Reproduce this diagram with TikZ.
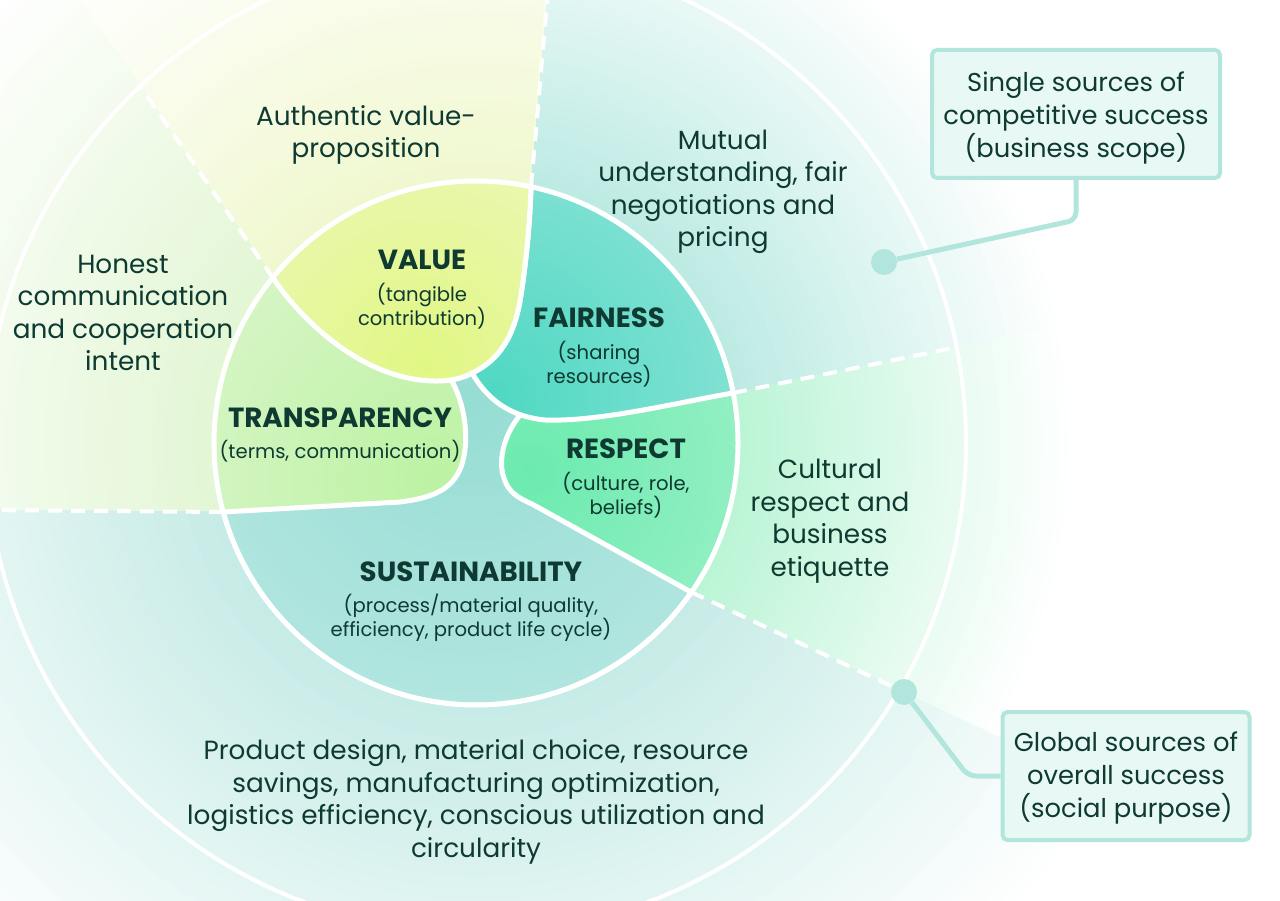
\documentclass[tikz,border=0pt]{standalone}
\usepackage{fontspec}
\setmainfont{Poppins}
\definecolor{ink}{HTML}{0E3A32}
\definecolor{callline}{HTML}{B2E6DD}
\definecolor{callfill}{HTML}{E8F8F5}
% outer ring colours (at the inner circle)
\definecolor{valuering}{HTML}{F0F8CF}
\definecolor{honestring}{HTML}{E2F6D4}
\definecolor{mutualring}{HTML}{BBEAE3}
\definecolor{culturering}{HTML}{BAF4D5}
\definecolor{productring}{HTML}{C6EBE6}
% petal colours
\definecolor{valuecore}{HTML}{E1F784}
\definecolor{valueout}{HTML}{F0F8D0}
\definecolor{faircore}{HTML}{4FD8C3}
\definecolor{fairout}{HTML}{ACE9E1}
\definecolor{respcore}{HTML}{6BEBAF}
\definecolor{respout}{HTML}{ADF2D0}
\definecolor{transcore}{HTML}{BCF2A2}
\definecolor{transout}{HTML}{E5F7D9}
\definecolor{sustcore}{HTML}{96DDD4}
\definecolor{sustout}{HTML}{CDEFEB}
\tikzset{outertext/.style = {text=ink, align=center, font=\fontsize{26.3}{32.5}\selectfont}}
\tikzset{calltext/.style = {text=ink, align=center, font=\fontsize{25.8}{33}\selectfont}}
\tikzset{heading/.style = {text=ink, font=\fontsize{27.7}{30}\selectfont\bfseries}}
\tikzset{subtext/.style = {text=ink, align=center, font=\fontsize{19.6}{24}\selectfont}}
\tikzset{spoke/.style = {white, line width=4, dash pattern=on 14 off 9}}
% sector fill, fading from the inner circle (r=262) to white at radius #2
\tikzset{ring/.style 2 args = {path picture={
    \foreach \k [evaluate=\k as \r using #2-(#2-262)/40*\k, evaluate=\k as \p using 2.5*\k] in {0,...,40}
      {\fill[#1!\p!white] (O) circle (\r);}}}}
\tikzset{petal/.style n args = {4}{draw=white, line width=5, fill=#2,
    path picture={\shade[inner color=#1, outer color=#2] (#3) circle (#4);}}}
\tikzset{callbox/.style = {draw=callline, line width=4, fill=callfill, rounded corners=5,
    inner sep=0, minimum height=128}}
\tikzset{knob/.style = {circle, fill=callline, minimum size=26, inner sep=0}}
\tikzset{link/.style = {callline, line width=5, rounded corners=8}}

\begin{document}
\begin{tikzpicture}[x=1pt, y=-1pt]
  \useasboundingbox (0,0) rectangle (1280,901);
  \clip (0,0) rectangle (1280,901);
  \fill[white] (0,0) rectangle (1280,901);

  \coordinate (O) at (476,443);
  \coordinate (A) at (273,278);
  \coordinate (B) at (531,187);
  \coordinate (C) at (733,393);
  \coordinate (E) at (691,592);
  \coordinate (F) at (223,512);
  \coordinate (J) at (472,373);
  \coordinate (b1) at (549,-20);
  \coordinate (b2) at (140,86);
  \coordinate (b3) at (-20,510);
  \coordinate (b5) at (958,347);

  % sectors of the outer ring
  \path[ring={valuering}{620}] (A) -- (-126,-298) -- (573,-300) -- (B) -- (O) -- cycle;
  \path[ring={honestring}{660}] (F) -- (-300,507) -- (-300,-300) -- (-126,-298) -- (A) -- (O) -- cycle;
  \path[ring={mutualring}{600}] (B) -- (573,-300) -- (1500,-300) -- (1500,236) -- (C) -- (O) -- cycle;
  \path[ring={culturering}{600}] (C) -- (1500,236) -- (1500,974) -- (E) -- (O) -- cycle;
  \path[ring={productring}{720}] (E) -- (1500,974) -- (1500,1300) -- (-300,1300) -- (-300,507) -- (F) -- (O) -- cycle;

  \draw[white, line width=4] (O) circle (490);
  \node[knob] (globaldot) at (904,692) {};
  \draw[spoke] (B) -- (b1);
  \draw[spoke] (A) -- (b2);
  \draw[spoke] (F) -- (b3);
  \draw[spoke] (E) -- (globaldot);
  \draw[spoke] (C) -- (b5);

  % inner disc
  \begin{scope}
    \clip (O) circle (262);
    \path[petal={sustcore}{sustout}{470,400}{620}] (O) circle (262);
    \path[petal={respcore}{respout}{530,470}{360}] (532,395) -- (527,408)
      .. controls (505,428) and (497,460) .. (504,478)
      .. controls (508,492) and (518,498) .. (532,504) -- (E)
      -- (730,620) -- (800,620) -- (800,380) -- cycle;
    \path[petal={transcore}{transout}{440,480}{420}] (440,345) -- (450,378)
      .. controls (464,400) and (471,440) .. (461,467)
      .. controls (452,490) and (432,498) .. (400,502) -- (F)
      -- (180,515) -- (160,300) -- (225,240) -- cycle;
    \path[petal={faircore}{fairout}{495,395}{440}] (J)
      .. controls (485,395) and (505,416) .. (545,420)
      .. controls (600,422) and (680,402) .. (C)
      -- (785,384) -- (800,100) -- (545,120) -- (B)
      .. controls (530,220) and (527,255) .. (521,295)
      .. controls (515,335) and (500,360) .. (J) -- cycle;
    \path[petal={valuecore}{valueout}{425,365}{380}] (A)
      .. controls (300,318) and (355,372) .. (420,380)
      .. controls (445,383) and (462,379) .. (J)
      .. controls (500,360) and (515,335) .. (521,295)
      .. controls (527,255) and (530,220) .. (B)
      -- (545,120) -- (250,120) -- (225,240) -- cycle;
  \end{scope}
  \draw[white, line width=5] (O) circle (262);

  % texts of the outer ring
  \node[outertext] (authentic) at (366,135) {Authentic value-\\proposition};
  \node[outertext] (mutual) at (723,192) {Mutual\\understanding, fair\\negotiations and\\pricing};
  \node[outertext] (honest) at (123,313) {Honest\\communication\\and cooperation\\intent};
  \node[outertext] (cultural) at (830,521) {Cultural\\respect and\\business\\etiquette};
  \node[outertext] (product) at (476,802) {Product design, material choice, resource\\savings, manufacturing optimization,\\logistics efficiency, conscious utilization and\\circularity};

  % texts of the inner disc
  \node[heading] (value) at (422,260) {VALUE};
  \node[subtext] (valuesub) at (422,306) {(tangible\\contribution)};
  \node[heading] (fairness) at (599,318) {FAIRNESS};
  \node[subtext] (fairnesssub) at (599,364) {(sharing\\resources)};
  \node[heading] (transparency) at (340,418) {TRANSPARENCY};
  \node[subtext] (transparencysub) at (340,451) {(terms, communication)};
  \node[heading] (respect) at (626,449) {RESPECT};
  \node[subtext] (respectsub) at (626,495) {(culture, role,\\beliefs)};
  \node[heading] (sustainability) at (471,572) {SUSTAINABILITY};
  \node[subtext] (sustainabilitysub) at (471,618) {(process/material quality,\\efficiency, product life cycle)};

  % callouts
  \node[callbox, minimum width=288] (single) at (1076,114) {};
  \node[calltext] (singletext) at (1076,118) {Single sources of\\competitive success\\(business scope)};
  \node[knob] (singledot) at (884,262) {};
  \draw[link] (single.south) -- ++(0,40) -- (singledot);
  \node[callbox, minimum width=247] (global) at (1126,776) {};
  \node[calltext] (globaltext) at (1126,778) {Global sources of\\overall success\\(social purpose)};
  \coordinate (globalbend) at (968,776);
  \draw[link] (globaldot) -- (globalbend) -- (global.west);
\end{tikzpicture}
\end{document}
